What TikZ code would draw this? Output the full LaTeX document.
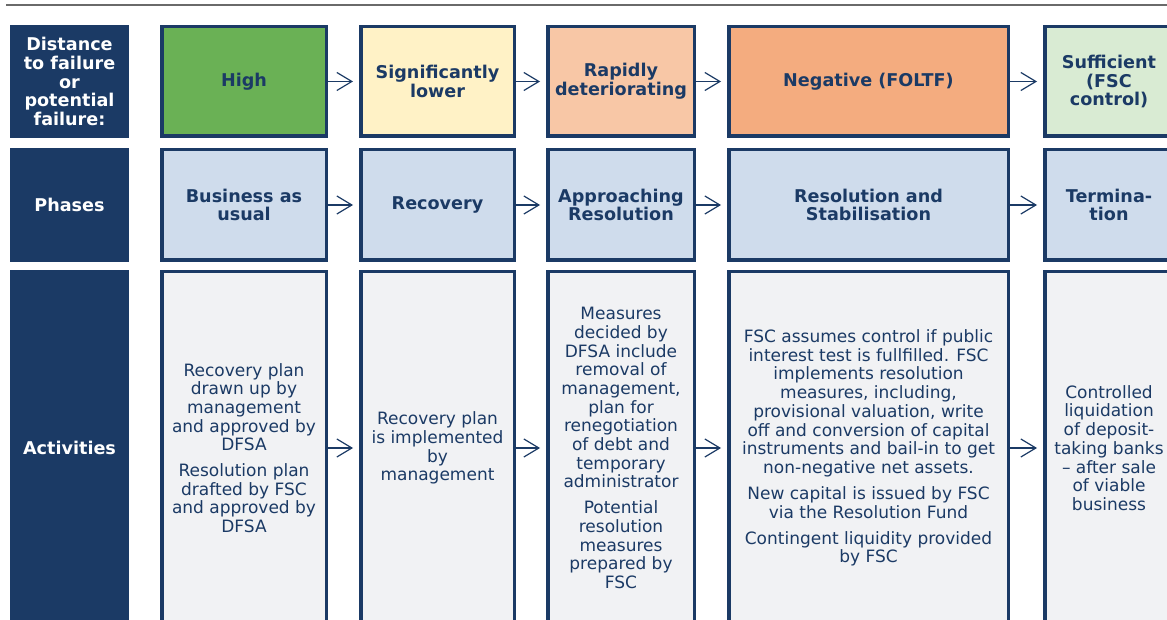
\documentclass[tikz,border=0pt]{standalone}
\usepackage{fontspec}
\setmainfont{DejaVu Sans}
\usepackage{tikz}
\usetikzlibrary{arrows.meta}

\definecolor{navy}{HTML}{1B3A65}
\definecolor{rulegray}{HTML}{6A6A6A}
\definecolor{highgreen}{HTML}{6AB155}
\definecolor{lowyellow}{HTML}{FFF2C6}
\definecolor{rapidpeach}{HTML}{F8C7A6}
\definecolor{negorange}{HTML}{F4AC7F}
\definecolor{suffgreen}{HTML}{D9EBD3}
\definecolor{phasefill}{HTML}{CFDCEC}
\definecolor{actfill}{HTML}{F1F2F4}

\newcommand{\lblfont}{\fontsize{17}{18.7}\selectfont}
\newcommand{\boldlblfont}{\fontsize{17.6}{18.7}\selectfont\bfseries}

\begin{document}
\begin{tikzpicture}[x=1pt,y=-1pt,
    hdr/.style={fill=navy,text=white,font=\boldlblfont,align=center,
      inner sep=0pt,minimum width=119pt},
    cell/.style={draw=navy,line width=3.5pt,text=navy,align=center,inner sep=0pt},
    level/.style={cell,font=\boldlblfont,minimum height=109.5pt},
    phase/.style={cell,fill=phasefill,font=\boldlblfont,minimum height=110.5pt},
    activity/.style={cell,fill=actfill,font=\lblfont,minimum height=352.5pt},
    flow/.style={-{Straight Barb[length=15pt,width=18pt]},navy,line width=1.2pt,
      shorten >=6pt}]
  \useasboundingbox (0,0) rectangle (1167,620);
  \clip (0,0) rectangle (1167,620);

  % top rule
  \draw[rulegray,line width=2pt] (6,5) -- (1167,5);

  % row headers
  \node[hdr,minimum height=113pt] (distHead) at (69.5,81.5)
    {Distance\\to failure\\or\\potential\\failure:};
  \node[hdr,minimum height=114pt] (phaseHead) at (69.5,205) {Phases};
  \node[hdr,minimum height=356pt] (actHead) at (69.5,448) {Activities};

  % distance to failure
  \node[level,fill=highgreen,minimum width=164.5pt] (lvlHigh) at (244,81.5) {High};
  \node[level,fill=lowyellow,minimum width=153.5pt] (lvlLower) at (437.5,81.5)
    {Significantly\\lower};
  \node[level,fill=rapidpeach,minimum width=146.5pt] (lvlRapid) at (621,81.5)
    {Rapidly\\deteriorating};
  \node[level,fill=negorange,minimum width=279.5pt] (lvlNeg) at (868.5,81.5)
    {Negative (FOLTF)};
  \node[level,fill=suffgreen,minimum width=128.5pt] (lvlSuff) at (1109,81.5)
    {Sufficient\\(FSC\\control)};

  % phases
  \node[phase,minimum width=164.5pt] (phBau) at (244,205) {Business as\\usual};
  \node[phase,minimum width=153.5pt] (phRec) at (437.5,205) {Recovery};
  \node[phase,minimum width=146.5pt] (phApp) at (621,205) {Approaching\\Resolution};
  \node[phase,minimum width=279.5pt] (phRes) at (868.5,205)
    {Resolution and\\Stabilisation};
  \node[phase,minimum width=128.5pt] (phTerm) at (1109,205) {Termina-\\tion};

  % activities
  \node[activity,minimum width=164.5pt] (actBau) at (244,448)
    {Recovery plan\\drawn up by\\management\\and approved by\\DFSA\\[7pt]
     Resolution plan\\drafted by FSC\\and approved by\\DFSA};
  \node[activity,minimum width=153.5pt] (actRec) at (437.5,448)
    {Recovery plan\\is implemented\\by\\management};
  \node[activity,minimum width=146.5pt] (actApp) at (621,448)
    {Measures\\decided by\\DFSA include\\removal of\\management,\\plan for\\
     renegotiation\\of debt and\\temporary\\administrator\\[7pt]
     Potential\\resolution\\measures\\prepared by\\FSC};
  \node[activity,minimum width=279.5pt] (actRes) at (868.5,448)
    {FSC assumes control if public\\interest test is fullfilled. FSC\\
     implements resolution\\measures, including,\\provisional valuation, write\\
     off and conversion of capital\\instruments and bail-in to get\\
     non-negative net assets.\\[7.5pt]
     New capital is issued by FSC\\via the Resolution Fund\\[7pt]
     Contingent liquidity provided\\by FSC};
  \node[activity,minimum width=128.5pt] (actTerm) at (1109,448)
    {Controlled\\liquidation\\of deposit-\\taking banks\\– after sale\\
     of viable\\business};

  % arrows
  \foreach \a/\b in {lvlHigh/lvlLower,lvlLower/lvlRapid,lvlRapid/lvlNeg,lvlNeg/lvlSuff,
      phBau/phRec,phRec/phApp,phApp/phRes,phRes/phTerm,
      actBau/actRec,actRec/actApp,actApp/actRes,actRes/actTerm}
    \draw[flow] (\a) -- (\b);
\end{tikzpicture}
\end{document}
